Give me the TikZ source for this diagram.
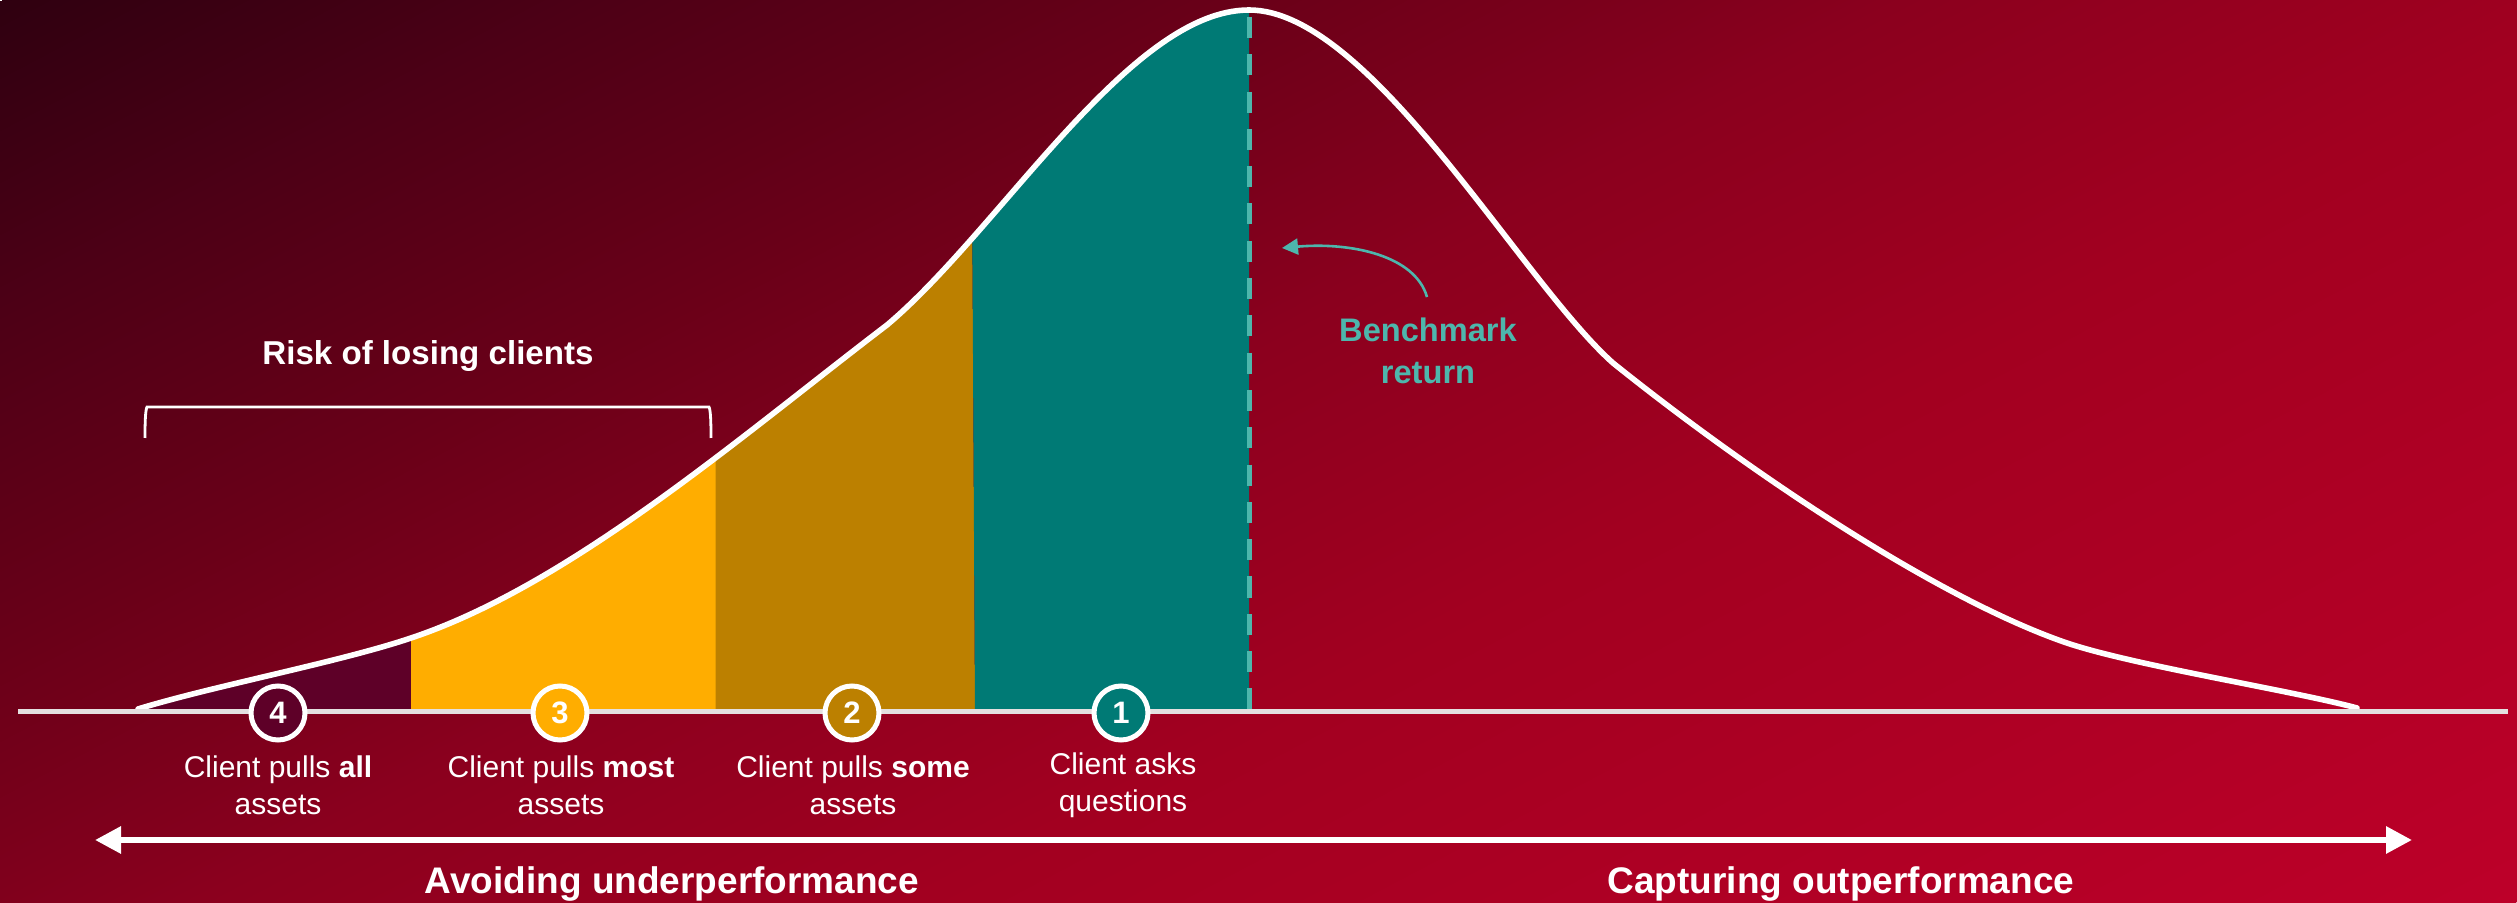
\documentclass[tikz,border=0pt]{standalone}
\usepackage{fontspec}
\setmainfont{Liberation Sans}
\usetikzlibrary{arrows.meta}
\definecolor{band4}{HTML}{5E0028}
\definecolor{band3}{HTML}{FFAD00}
\definecolor{band2}{HTML}{BC8000}
\definecolor{band1}{HTML}{007A75}
\definecolor{teallight}{HTML}{4DB6AC}
\definecolor{axisgrey}{HTML}{E4E0E0}
\definecolor{bg0}{HTML}{2F0010}
\definecolor{bg1}{HTML}{4D0016}
\definecolor{bg2}{HTML}{6A0018}
\definecolor{bg3}{HTML}{79001B}
\definecolor{bg4}{HTML}{8B001E}
\definecolor{bg5}{HTML}{A20020}
\definecolor{bg6}{HTML}{BD0029}
\pgfdeclareverticalshading{bgshade}{100bp}{%
  color(0bp)=(bg0);color(14bp)=(bg1);color(29.5bp)=(bg2);color(37bp)=(bg3);
  color(45bp)=(bg4);color(62bp)=(bg5);color(100bp)=(bg6)}
\newcommand{\bellpath}{(138,709) .. controls (213,686) and (340,662) .. (411,638)
  .. controls (570,585) and (740,437) .. (887,325)
  .. controls (1000,230) and (1130,10) .. (1249,10)
  .. controls (1370,10) and (1520,280) .. (1613,363)
  .. controls (1740,465) and (1930,595) .. (2064,642)
  .. controls (2130,665) and (2290,690) .. (2357,708)}
\tikzset{
  x=0.5pt,y=-0.5pt,
  stepdot/.style={circle,draw=white,line width=2.5pt,minimum size=27pt,inner sep=0pt,outer sep=0pt,text=white,font=\bfseries\fontsize{15.5}{18}\selectfont},
  steplabel/.style={text=white,align=center,inner sep=0pt,font=\fontsize{15}{18.5}\selectfont},
  headline/.style={text=white,inner sep=0pt,anchor=base,font=\bfseries\fontsize{18.5}{22}\selectfont},
  benchlabel/.style={text=teallight,align=center,inner sep=0pt,font=\bfseries\fontsize{16.3}{21}\selectfont},
  bellcurve/.style={draw=white,line width=2.8pt,line cap=round,line join=round},
}
\begin{document}
\begin{tikzpicture}
\useasboundingbox (0,0) rectangle (2517,903);
% background gradient
\begin{scope}
  \clip (0,0) rectangle (2517,903);
  \node[transform shape,inner sep=0pt,outer sep=0pt,rotate=207.8,xscale=20,yscale=9.82] (bg) at (1258.5,451.5) {\pgfuseshading{bgshade}};
\end{scope}
% coloured bands
\begin{scope}
  \clip \bellpath -- (2357,711) -- (138,711) -- cycle;
  \fill[band4] (130,0) rectangle (411,711);
  \fill[band3] (411,0) rectangle (715.5,711);
  \fill[band2] (715.5,0) -- (971,0) -- (975,711) -- (715.5,711) -- cycle;
  \fill[band1] (971,0) -- (1249,0) -- (1249,711) -- (975,711) -- cycle;
\end{scope}
% curve
\draw[bellcurve] \bellpath;
% benchmark dashed line
\coordinate (peak) at (1249,17);
\coordinate (peakbase) at (1249,711);
\draw[teallight,line width=2.5pt,dash pattern=on 10.5pt off 8.15pt] (peak) -- (peakbase);
% axis
\coordinate (axisL) at (18,711.5);
\coordinate (axisR) at (2508,711.5);
\draw[axisgrey,line width=2.5pt] (axisL) -- (axisR);
% steps
\node[stepdot,fill=band4] (s4) at (278,713) {4};
\node[stepdot,fill=band3] (s3) at (560,713) {3};
\node[stepdot,fill=band2] (s2) at (852,713) {2};
\node[stepdot,fill=band1] (s1) at (1121,713) {1};
\node[steplabel] (l4) at (278,785) {Client pulls \textbf{all}\\assets};
\node[steplabel] (l3) at (561,785) {Client pulls \textbf{most}\\assets};
\node[steplabel] (l2) at (853,785) {Client pulls \textbf{some}\\assets};
\node[steplabel] (l1) at (1123,785) {Client asks\\questions};
% long arrow
\coordinate (arrL) at (95,840);
\coordinate (arrR) at (2412,840);
\draw[white,line width=3pt,{Triangle[length=13pt,width=13pt]}-{Triangle[length=13pt,width=13pt]}] (arrL) -- (arrR);
\node[headline] (avoid) at (672,893) {Avoiding underperformance};
\node[headline] (capture) at (1841,893) {Capturing outperformance};
% bracket
\node[text=white,inner sep=0pt,anchor=base,font=\bfseries\fontsize{16.55}{20}\selectfont] (risk) at (428,365) {Risk of losing clients};
\coordinate (brL) at (145,438);
\coordinate (brLt) at (147,407);
\coordinate (brRt) at (709,407);
\coordinate (brR) at (711,438);
\draw[white,line width=1.4pt] (brL) .. controls (145,420) and (145.5,410) .. (brLt) -- (brRt) .. controls (710.5,410) and (711,420) .. (brR);
% benchmark label
\node[benchlabel] (bench) at (1428,351) {Benchmark\\return};
\coordinate (benchtail) at (1427,297);
\coordinate (benchtip) at (1282,248);
\draw[teallight,line width=1.3pt,-{Triangle[length=8pt,width=8pt]}] (benchtail) .. controls (1415,255) and (1350,242) .. (benchtip);
\end{tikzpicture}
\end{document}
